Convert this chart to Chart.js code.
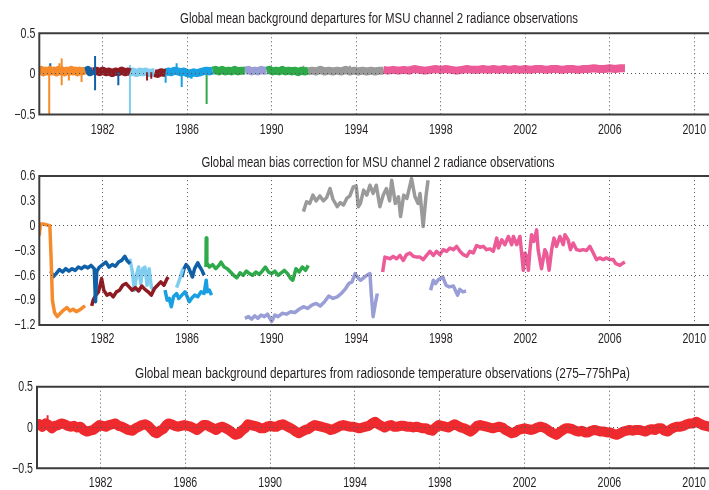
<!DOCTYPE html>
<html><head><meta charset="utf-8">
<script src="https://cdn.jsdelivr.net/npm/chart.js@4.4.1/dist/chart.umd.min.js"></script>
<style>
html,body{margin:0;padding:0;background:#fff;overflow:hidden;width:709px;height:490px;}
canvas{position:absolute;left:0;}
</style></head><body>
<canvas id="c1" width="712" height="140" style="top:0px"></canvas>
<canvas id="c2" width="712" height="210" style="top:140px"></canvas>
<canvas id="c3" width="712" height="140" style="top:350px"></canvas>
<script>
// ---------- shared tick data ----------
const xTickYears = [1982, 1986, 1990, 1994, 1998, 2002, 2006, 2010];
const xTickLabels = ['1982', '1986', '1990', '1994', '1998', '2002', '2006', '2010'];
const titles = [
  'Global mean background departures for MSU channel 2 radiance observations',
  'Global mean bias correction for MSU channel 2 radiance observations',
  'Global mean background departures from radiosonde temperature observations (275\u2013775hPa)'
];

// ---------- panel 1: MSU background departures (band segments) ----------
const dep1Orange = [[1979.0,0.03],[1979.1,0.05],[1979.2,0.02],[1979.3,0.04],[1979.4,0.03],[1979.5,0.05],[1979.6,0.03],[1979.7,0.04],[1979.8,0.02],[1979.9,0.05],[1980.0,0.03],[1980.1,0.04],[1980.2,0.02],[1980.3,0.04],[1980.4,0.03],[1980.5,0.05],[1980.6,0.03],[1980.7,0.04],[1980.8,0.02],[1980.9,0.04],[1981.0,0.03],[1981.17,0.04]];
const dep1DarkBlue = [[1981.17,0.03],[1981.3,0.05],[1981.4,0.02],[1981.55,0.04]];
const dep1DarkRedA = [[1981.55,0.03],[1981.7,0.04],[1981.85,0.02],[1982.0,0.04],[1982.15,0.02],[1982.3,0.03],[1982.45,0.01],[1982.6,0.03],[1982.75,0.02],[1982.9,0.04],[1983.05,0.02],[1983.2,0.03],[1983.3,0.02]];
const dep1LightBlue = [[1983.3,0.02],[1983.45,0.03],[1983.6,0.01],[1983.75,0.03],[1983.9,0.02],[1984.05,0.03],[1984.2,0.01],[1984.35,0.02],[1984.45,0.02]];
const dep1DarkRedB = [[1984.45,0.01],[1984.6,0.0],[1984.75,0.02],[1984.97,0.01]];
const dep1SkyBlue = [[1984.97,0.02],[1985.1,0.03],[1985.25,0.02],[1985.4,0.04],[1985.55,0.03],[1985.7,0.02],[1985.85,0.03],[1986.0,0.01],[1986.15,0.0],[1986.3,0.02],[1986.45,0.01],[1986.6,0.02],[1986.75,0.03],[1986.9,0.04],[1987.05,0.03],[1987.2,0.04]];
const dep1GreenA = [[1987.2,0.04],[1987.35,0.05],[1987.5,0.03],[1987.65,0.05],[1987.8,0.03],[1987.95,0.04],[1988.1,0.03],[1988.25,0.05],[1988.4,0.03],[1988.55,0.04],[1988.73,0.04]];
const dep1Lavender = [[1988.73,0.04],[1988.9,0.05],[1989.05,0.03],[1989.2,0.04],[1989.35,0.03],[1989.5,0.05],[1989.65,0.04],[1989.76,0.04]];
const dep1GreenB = [[1989.76,0.04],[1989.9,0.05],[1990.05,0.03],[1990.2,0.04],[1990.35,0.03],[1990.5,0.05],[1990.65,0.03],[1990.8,0.04],[1990.95,0.03],[1991.1,0.04],[1991.25,0.02],[1991.4,0.04],[1991.55,0.03],[1991.73,0.04]];
const dep1Gray = [[1991.73,0.03],[1991.9,0.04],[1992.1,0.03],[1992.3,0.05],[1992.5,0.03],[1992.7,0.04],[1992.9,0.03],[1993.1,0.04],[1993.3,0.03],[1993.5,0.05],[1993.7,0.03],[1993.9,0.04],[1994.1,0.03],[1994.3,0.04],[1994.5,0.03],[1994.7,0.04],[1994.9,0.03],[1995.1,0.04],[1995.28,0.04]];
const dep1Pink = [[1995.28,0.05],[1995.5,0.04],[1995.75,0.05],[1996.0,0.04],[1996.25,0.05],[1996.5,0.04],[1996.75,0.06],[1997.0,0.05],[1997.25,0.04],[1997.5,0.05],[1997.75,0.06],[1998.0,0.05],[1998.25,0.06],[1998.5,0.05],[1998.75,0.04],[1999.0,0.05],[1999.25,0.06],[1999.5,0.05],[1999.75,0.05],[2000.0,0.06],[2000.25,0.05],[2000.5,0.06],[2000.75,0.05],[2001.0,0.06],[2001.25,0.05],[2001.5,0.06],[2001.75,0.05],[2002.0,0.06],[2002.25,0.05],[2002.5,0.06],[2002.75,0.06],[2003.0,0.05],[2003.25,0.06],[2003.5,0.06],[2003.75,0.05],[2004.0,0.06],[2004.25,0.06],[2004.5,0.05],[2004.75,0.06],[2005.0,0.06],[2005.25,0.07],[2005.5,0.06],[2005.75,0.06],[2006.0,0.07],[2006.25,0.06],[2006.5,0.07],[2006.72,0.07]];
// spikes: [year, low, high]
const spk1Orange = [[1979.47,-0.5,0.05],[1979.95,0.0,0.13],[1980.06,-0.14,0.19],[1980.4,-0.08,0.03],[1980.6,0.0,0.09],[1981.0,-0.1,0.03]];
const spk1DarkBlue = [[1979.52,0.0,0.13],[1981.64,-0.2,0.22],[1982.74,-0.14,0.02]];
const spk1LightBlue = [[1983.29,-0.5,0.11]];
const spk1DarkRed = [[1984.1,-0.08,0.02],[1984.3,-0.06,0.02]];
const spk1SkyBlue = [[1984.98,-0.11,0.03],[1985.5,0.02,0.13],[1985.74,-0.16,0.03],[1986.2,-0.06,0.02]];
const spk1Green = [[1986.92,-0.37,0.03]];
const spk1Gray = [[1991.5,0.02,0.1],[1993.7,0.02,0.1]];

// ---------- panel 2: bias correction ----------
const biasOrange = [[1979.0,-0.12],[1979.05,0.02],[1979.2,0.02],[1979.35,0.01],[1979.5,0.0],[1979.56,-0.4],[1979.62,-0.9],[1979.72,-1.05],[1979.85,-1.1],[1980.0,-1.06],[1980.15,-1.02],[1980.3,-0.99],[1980.45,-1.03],[1980.6,-1.01],[1980.75,-1.04],[1980.9,-1.02],[1981.05,-0.99],[1981.17,-0.97]];
const biasDarkBlueA = [[1979.55,-0.55],[1979.65,-0.62],[1979.8,-0.58],[1979.95,-0.53],[1980.1,-0.56],[1980.25,-0.52],[1980.4,-0.55],[1980.55,-0.52],[1980.7,-0.54],[1980.85,-0.5],[1981.0,-0.52],[1981.15,-0.49],[1981.3,-0.51],[1981.45,-0.48],[1981.6,-0.52],[1981.66,-0.92],[1981.72,-0.55],[1981.85,-0.5],[1982.0,-0.47],[1982.15,-0.44],[1982.3,-0.5],[1982.45,-0.47],[1982.6,-0.49],[1982.75,-0.44],[1982.9,-0.42],[1983.05,-0.37],[1983.15,-0.42],[1983.3,-0.46]];
const biasDarkRed = [[1981.48,-0.97],[1981.55,-0.9],[1981.65,-0.85],[1981.8,-0.8],[1981.95,-0.64],[1982.05,-0.78],[1982.2,-0.84],[1982.35,-0.82],[1982.5,-0.86],[1982.65,-0.8],[1982.8,-0.78],[1982.95,-0.72],[1983.1,-0.7],[1983.25,-0.74],[1983.4,-0.78],[1983.55,-0.75],[1983.7,-0.79],[1983.85,-0.73],[1984.0,-0.77],[1984.15,-0.8],[1984.3,-0.84],[1984.45,-0.76],[1984.6,-0.72],[1984.75,-0.68],[1984.9,-0.72],[1985.05,-0.64],[1985.1,-0.62]];
const biasLightBlueA = [[1983.28,-0.4],[1983.4,-0.55],[1983.5,-0.78],[1983.6,-0.6],[1983.7,-0.5],[1983.8,-0.7],[1983.9,-0.52],[1984.0,-0.5],[1984.1,-0.72],[1984.2,-0.52],[1984.3,-0.74],[1984.45,-0.8]];
const biasLightBlueB = [[1985.5,-0.75],[1985.6,-0.68],[1985.7,-0.6],[1985.8,-0.52]];
const biasSkyBlue = [[1984.95,-0.78],[1985.05,-0.9],[1985.15,-0.88],[1985.25,-0.98],[1985.35,-0.86],[1985.5,-0.82],[1985.6,-0.88],[1985.75,-0.84],[1985.9,-0.8],[1986.0,-0.86],[1986.1,-0.92],[1986.2,-0.88],[1986.35,-0.84],[1986.5,-0.86],[1986.65,-0.8],[1986.8,-0.82],[1986.9,-0.66],[1986.95,-0.8],[1987.05,-0.78],[1987.15,-0.84]];
const biasDarkBlueB = [[1985.75,-0.62],[1985.85,-0.52],[1985.95,-0.47],[1986.05,-0.5],[1986.15,-0.56],[1986.25,-0.62],[1986.35,-0.52],[1986.5,-0.45],[1986.6,-0.5],[1986.7,-0.54],[1986.8,-0.6]];
const biasGreen = [[1986.89,-0.5],[1986.9,-0.15],[1986.93,-0.45],[1987.05,-0.5],[1987.2,-0.47],[1987.35,-0.52],[1987.5,-0.48],[1987.6,-0.44],[1987.75,-0.5],[1987.9,-0.52],[1988.05,-0.56],[1988.2,-0.6],[1988.35,-0.63],[1988.5,-0.57],[1988.65,-0.6],[1988.8,-0.55],[1988.95,-0.58],[1989.1,-0.6],[1989.25,-0.56],[1989.4,-0.59],[1989.55,-0.55],[1989.7,-0.5],[1989.85,-0.56],[1990.0,-0.58],[1990.15,-0.55],[1990.3,-0.6],[1990.45,-0.57],[1990.6,-0.54],[1990.75,-0.58],[1990.9,-0.64],[1991.0,-0.66],[1991.15,-0.52],[1991.3,-0.56],[1991.45,-0.5],[1991.6,-0.54],[1991.73,-0.48]];
const biasLavenderA = [[1988.73,-1.12],[1988.9,-1.1],[1989.05,-1.13],[1989.2,-1.09],[1989.35,-1.12],[1989.5,-1.08],[1989.65,-1.1],[1989.8,-1.07],[1990.0,-1.16],[1990.15,-1.08],[1990.3,-1.1],[1990.5,-1.06],[1990.7,-1.07],[1990.9,-1.04],[1991.1,-1.05],[1991.3,-1.01],[1991.5,-0.98],[1991.7,-1.0],[1991.9,-0.96],[1992.1,-0.94],[1992.3,-0.97],[1992.5,-0.92],[1992.7,-0.85],[1992.9,-0.88],[1993.1,-0.86],[1993.3,-0.82],[1993.5,-0.76],[1993.65,-0.7],[1993.8,-0.68],[1993.95,-0.58],[1994.05,-0.62],[1994.2,-0.66],[1994.35,-0.63],[1994.5,-0.6],[1994.65,-0.58],[1994.72,-0.85],[1994.8,-1.1],[1994.9,-0.95],[1995.0,-0.82]];
const biasLavenderB = [[1997.52,-0.78],[1997.65,-0.66],[1997.75,-0.7],[1997.9,-0.65],[1998.1,-0.62],[1998.25,-0.72],[1998.4,-0.74],[1998.6,-0.73],[1998.8,-0.84],[1998.9,-0.77],[1999.05,-0.8],[1999.2,-0.79]];
const biasGray = [[1991.5,0.17],[1991.65,0.29],[1991.8,0.27],[1991.95,0.37],[1992.1,0.3],[1992.28,0.36],[1992.45,0.3],[1992.6,0.34],[1992.76,0.45],[1992.9,0.32],[1993.1,0.23],[1993.25,0.28],[1993.4,0.25],[1993.55,0.33],[1993.7,0.36],[1993.86,0.47],[1994.0,0.48],[1994.1,0.23],[1994.2,0.27],[1994.35,0.43],[1994.5,0.37],[1994.65,0.49],[1994.8,0.39],[1994.95,0.49],[1995.12,0.23],[1995.28,0.37],[1995.43,0.45],[1995.58,0.3],[1995.68,0.55],[1995.85,0.27],[1996.0,0.35],[1996.1,0.11],[1996.25,0.37],[1996.4,0.33],[1996.62,0.57],[1996.78,0.35],[1996.93,0.27],[1997.02,0.39],[1997.17,-0.01],[1997.3,0.35],[1997.4,0.55]];
const biasPink = [[1995.25,-0.56],[1995.36,-0.38],[1995.6,-0.4],[1995.75,-0.37],[1995.91,-0.4],[1996.07,-0.36],[1996.23,-0.42],[1996.38,-0.35],[1996.54,-0.33],[1996.7,-0.37],[1996.86,-0.38],[1997.02,-0.38],[1997.17,-0.41],[1997.33,-0.36],[1997.49,-0.31],[1997.65,-0.36],[1997.8,-0.31],[1997.96,-0.35],[1998.12,-0.29],[1998.28,-0.31],[1998.44,-0.27],[1998.6,-0.29],[1998.75,-0.25],[1998.91,-0.31],[1999.07,-0.35],[1999.23,-0.37],[1999.38,-0.31],[1999.54,-0.33],[1999.7,-0.24],[1999.86,-0.26],[2000.02,-0.25],[2000.17,-0.29],[2000.33,-0.28],[2000.49,-0.31],[2000.65,-0.15],[2000.73,-0.27],[2000.89,-0.17],[2001.04,-0.23],[2001.2,-0.13],[2001.36,-0.23],[2001.44,-0.13],[2001.6,-0.23],[2001.75,-0.13],[2001.91,-0.54],[2001.99,-0.33],[2002.07,-0.37],[2002.15,-0.54],[2002.22,-0.3],[2002.3,-0.11],[2002.41,-0.19],[2002.54,-0.05],[2002.61,-0.29],[2002.77,-0.52],[2002.93,-0.29],[2003.01,-0.33],[2003.13,-0.54],[2003.25,-0.29],[2003.36,-0.15],[2003.48,-0.25],[2003.64,-0.13],[2003.8,-0.23],[2003.88,-0.11],[2004.03,-0.17],[2004.14,-0.29],[2004.27,-0.21],[2004.43,-0.29],[2004.59,-0.3],[2004.74,-0.29],[2004.9,-0.3],[2005.06,-0.25],[2005.22,-0.33],[2005.37,-0.41],[2005.53,-0.39],[2005.69,-0.41],[2005.85,-0.39],[2006.0,-0.41],[2006.16,-0.41],[2006.29,-0.46],[2006.48,-0.48],[2006.64,-0.45],[2006.72,-0.44]];

// ---------- panel 3: radiosonde departures ----------
const sondeRed = [[1979.0,0.02],[1979.1,0.04],[1979.25,0.01],[1979.4,0.05],[1979.55,0.03],[1979.7,-0.01],[1979.85,0.02],[1980.0,0.03],[1980.15,0.05],[1980.3,0.04],[1980.45,0.02],[1980.6,0.01],[1980.75,0.02],[1980.9,0.0],[1981.05,0.01],[1981.2,-0.03],[1981.35,-0.05],[1981.5,-0.04],[1981.65,-0.03],[1981.8,0.0],[1981.95,0.03],[1982.1,0.02],[1982.25,0.01],[1982.4,0.03],[1982.55,0.04],[1982.7,0.05],[1982.85,0.02],[1983.0,0.01],[1983.15,-0.01],[1983.3,-0.03],[1983.5,-0.04],[1983.65,-0.01],[1983.8,0.01],[1983.95,0.03],[1984.1,0.04],[1984.25,0.02],[1984.4,-0.02],[1984.55,-0.06],[1984.65,-0.07],[1984.8,-0.04],[1984.95,-0.02],[1985.1,0.03],[1985.2,0.05],[1985.35,0.04],[1985.5,0.02],[1985.65,0.01],[1985.8,0.02],[1985.95,0.03],[1986.1,0.02],[1986.25,0.01],[1986.4,-0.01],[1986.55,-0.03],[1986.7,0.0],[1986.85,0.03],[1987.0,0.03],[1987.15,0.01],[1987.3,-0.01],[1987.45,-0.03],[1987.6,0.0],[1987.75,0.01],[1987.9,-0.01],[1988.05,-0.03],[1988.2,-0.06],[1988.35,-0.09],[1988.5,-0.08],[1988.65,-0.04],[1988.8,-0.01],[1988.95,0.04],[1989.1,0.03],[1989.25,0.02],[1989.4,0.01],[1989.55,-0.01],[1989.7,-0.01],[1989.85,0.01],[1990.0,0.02],[1990.15,0.01],[1990.3,0.01],[1990.45,0.03],[1990.6,0.04],[1990.75,0.02],[1990.9,0.0],[1991.05,-0.02],[1991.2,-0.05],[1991.35,-0.07],[1991.5,-0.05],[1991.65,-0.03],[1991.8,-0.02],[1991.95,0.01],[1992.1,0.03],[1992.25,0.02],[1992.4,0.01],[1992.55,0.0],[1992.7,-0.01],[1992.85,-0.03],[1993.0,-0.02],[1993.15,0.0],[1993.3,0.02],[1993.45,0.03],[1993.6,0.02],[1993.75,0.01],[1993.9,0.01],[1994.05,0.0],[1994.2,-0.01],[1994.35,0.0],[1994.5,0.01],[1994.65,0.02],[1994.8,0.05],[1994.95,0.07],[1995.1,0.04],[1995.25,0.02],[1995.4,0.0],[1995.55,0.02],[1995.7,0.03],[1995.85,0.01],[1996.0,0.01],[1996.15,0.02],[1996.3,0.02],[1996.45,0.01],[1996.6,0.01],[1996.75,0.0],[1996.9,0.01],[1997.05,0.0],[1997.2,-0.01],[1997.35,-0.01],[1997.5,-0.03],[1997.65,-0.04],[1997.8,0.0],[1997.95,0.03],[1998.1,0.02],[1998.25,0.01],[1998.4,0.0],[1998.55,0.02],[1998.7,0.04],[1998.85,0.02],[1999.0,0.0],[1999.15,-0.01],[1999.3,-0.03],[1999.45,-0.05],[1999.6,-0.02],[1999.75,0.02],[1999.9,0.03],[2000.05,0.02],[2000.2,0.01],[2000.35,0.0],[2000.5,-0.01],[2000.65,0.0],[2000.8,0.01],[2000.95,0.0],[2001.1,-0.03],[2001.25,-0.05],[2001.4,-0.07],[2001.55,-0.06],[2001.7,-0.03],[2001.85,-0.02],[2002.0,-0.01],[2002.15,-0.02],[2002.3,-0.03],[2002.45,-0.02],[2002.6,0.0],[2002.75,0.01],[2002.9,0.0],[2003.05,-0.02],[2003.2,-0.05],[2003.35,-0.07],[2003.5,-0.09],[2003.65,-0.06],[2003.8,-0.03],[2003.95,-0.01],[2004.1,-0.01],[2004.25,-0.02],[2004.4,-0.04],[2004.55,-0.05],[2004.7,-0.04],[2004.85,-0.06],[2005.0,-0.06],[2005.15,-0.04],[2005.3,-0.03],[2005.45,-0.04],[2005.6,-0.05],[2005.75,-0.05],[2005.9,-0.06],[2006.05,-0.06],[2006.2,-0.08],[2006.35,-0.09],[2006.5,-0.07],[2006.65,-0.05],[2006.8,-0.04],[2006.95,-0.03],[2007.1,-0.04],[2007.25,-0.03],[2007.4,-0.03],[2007.55,-0.04],[2007.7,-0.05],[2007.85,-0.03],[2008.0,-0.02],[2008.15,-0.03],[2008.3,-0.01],[2008.45,-0.01],[2008.6,-0.04],[2008.75,-0.05],[2008.9,-0.02],[2009.05,0.0],[2009.2,0.01],[2009.35,0.01],[2009.5,0.02],[2009.65,0.04],[2009.8,0.05],[2009.95,0.05],[2010.1,0.07],[2010.25,0.05],[2010.4,0.03],[2010.55,0.02],[2010.7,0.01],[2010.84,0.02]];
const spk3Red = [[1979.5,0.0,0.15]];

// ---------- colours ----------
const C = {
  orange:'#f68b2c', darkBlue:'#1060a8', darkRed:'#8e1b22', lightBlue:'#80cdf0',
  skyBlue:'#18a0e2', green:'#2eaa4a', lavender:'#9a9ed6', gray:'#9a9a9a',
  pink:'#ec5b97', red:'#ee2a2f'
};
const FONT = "'Liberation Sans', Arial, sans-serif";
const TXT = '#231f20';
const SQUEEZE = 0.76;   // condensed look of the original lettering

// ---------- helpers ----------
const toPts = a => a.map(p => ({x:p[0], y:p[1]}));
const spikePts = a => { const r=[]; a.forEach(p => { r.push({x:p[0],y:p[1]},{x:p[0],y:p[2]},{x:p[0]+0.001,y:null}); }); return r; };
const line = (data, color, w) => ({data, borderColor:color, backgroundColor:color, borderWidth:w, pointRadius:0, tension:0, fill:false, spanGaps:false, borderJoinStyle:'round'});
const fmtY = v => { const r = Math.round(v*10)/10; if (r === 0) return '0'; return (r<0?'\u2212':'') + Math.abs(r).toFixed(1); };
function squeezedText(ctx, text, x, y, width) {
  const w = ctx.measureText(text).width;
  ctx.fillText(text, x, y, width !== undefined ? width : w * SQUEEZE);
}

function makeChart(id, cfg) {
  const framePlugin = {
    id:'frame'+id,
    afterDraw(chart) {
      const {ctx, chartArea:a} = chart;
      ctx.save();
      ctx.strokeStyle = '#3c3c3c';
      ctx.lineWidth = 2;
      ctx.beginPath();
      ctx.moveTo(a.right+2, a.top); ctx.lineTo(a.left, a.top); ctx.lineTo(a.left, a.bottom); ctx.lineTo(a.right+2, a.bottom);
      ctx.stroke();
      ctx.fillStyle = TXT;
      ctx.font = '14px ' + FONT;
      // title
      ctx.textAlign = 'center';
      ctx.textBaseline = 'alphabetic';
      squeezedText(ctx, cfg.title, cfg.titleX, cfg.titleY, cfg.titleW);
      // x tick labels
      const xs = chart.scales.x, ys = chart.scales.y;
      ctx.textBaseline = 'middle';
      xs.ticks.forEach((t, i) => {
        squeezedText(ctx, xTickLabels[i], xs.getPixelForValue(t.value), a.bottom + cfg.xLabOff);
      });
      // y tick labels
      ctx.textAlign = 'right';
      ys.ticks.forEach(t => {
        squeezedText(ctx, fmtY(t.value), a.left - 4, ys.getPixelForValue(t.value) + 0.5);
      });
      ctx.restore();
    }
  };
  return new Chart(document.getElementById(id), {
    type:'line',
    data:{datasets:cfg.datasets},
    plugins:[framePlugin],
    options:{
      responsive:false, animation:false, devicePixelRatio:1,
      layout:{padding:{top:cfg.padTop, left:0, right:0, bottom:0}},
      plugins:{legend:{display:false}, tooltip:{enabled:false}, title:{display:false}},
      scales:{
        x:{type:'linear', min:1979, max:2010.84,
          afterBuildTicks:s => { s.ticks = xTickYears.map(v => ({value:v})); },
          afterFit:s => { s.height = cfg.xH; },
          ticks:{display:false, autoSkip:false, maxRotation:0},
          grid:{drawTicks:false, color:'#555', lineWidth:1, z:1},
          border:{display:false, dash:[1,3]}
        },
        y:{min:cfg.yMin, max:cfg.yMax,
          afterFit:s => { s.width = cfg.yW; },
          ticks:{display:false, stepSize:cfg.yStep},
          grid:{drawTicks:false, lineWidth:1, z:1,
            color:c => { const v = c.tick ? c.tick.value : 1; return cfg.yGrid.some(g => Math.abs(g - v) < 1e-6) ? '#555' : 'rgba(0,0,0,0)'; }},
          border:{display:false, dash:[1,3]}
        }
      }
    }
  });
}

// Panel 1
makeChart('c1', {
  title:titles[0], titleX:379, titleY:23, titleW:398, padTop:33.3, xH:25.5, xLabOff:15.5, yW:39.3,
  yMin:-0.5, yMax:0.5, yStep:0.5, yGrid:[0],
  datasets:[
    line(toPts(dep1Orange), C.orange, 8), line(spikePts(spk1Orange), C.orange, 2),
    line(toPts(dep1DarkBlue), C.darkBlue, 8), line(spikePts(spk1DarkBlue), C.darkBlue, 2),
    line(toPts(dep1DarkRedA), C.darkRed, 8), line(toPts(dep1DarkRedB), C.darkRed, 8), line(spikePts(spk1DarkRed), C.darkRed, 2),
    line(toPts(dep1LightBlue), C.lightBlue, 8), line(spikePts(spk1LightBlue), C.lightBlue, 2),
    line(toPts(dep1SkyBlue), C.skyBlue, 8), line(spikePts(spk1SkyBlue), C.skyBlue, 2),
    line(toPts(dep1GreenA), C.green, 8), line(toPts(dep1GreenB), C.green, 8), line(spikePts(spk1Green), C.green, 2),
    line(toPts(dep1Lavender), C.lavender, 8),
    line(toPts(dep1Gray), C.gray, 8), line(spikePts(spk1Gray), C.gray, 2),
    line(toPts(dep1Pink), C.pink, 8)
  ]
});

// Panel 2
makeChart('c2', {
  title:titles[1], titleX:378, titleY:27, titleW:353, padTop:36.1, xH:25.1, xLabOff:14.1, yW:39.3,
  yMin:-1.2, yMax:0.6, yStep:0.3, yGrid:[0, -0.6],
  datasets:[
    line(toPts(biasOrange), C.orange, 3.5),
    line(toPts(biasDarkBlueA), C.darkBlue, 3.5),
    line(toPts(biasDarkRed), C.darkRed, 3.5),
    line(toPts(biasLightBlueA), C.lightBlue, 3.5),
    line(toPts(biasLightBlueB), C.lightBlue, 3.5),
    line(toPts(biasSkyBlue), C.skyBlue, 3.5),
    line(toPts(biasDarkBlueB), C.darkBlue, 3.5),
    line(toPts(biasGreen), C.green, 3.5),
    line(toPts(biasLavenderA), C.lavender, 3.5),
    line(toPts(biasLavenderB), C.lavender, 3.5),
    line(toPts(biasGray), C.gray, 3.5),
    line(toPts(biasPink), C.pink, 3.5)
  ]
});

// Panel 3
makeChart('c3', {
  title:titles[2], titleX:382.5, titleY:27.5, titleW:495, padTop:36.7, xH:21.7, xLabOff:14.7, yW:37,
  yMin:-0.5, yMax:0.5, yStep:0.5, yGrid:[0],
  datasets:[
    line(toPts(sondeRed), C.red, 10),
    line(spikePts(spk3Red), C.red, 2)
  ]
});
</script>
</body></html>
